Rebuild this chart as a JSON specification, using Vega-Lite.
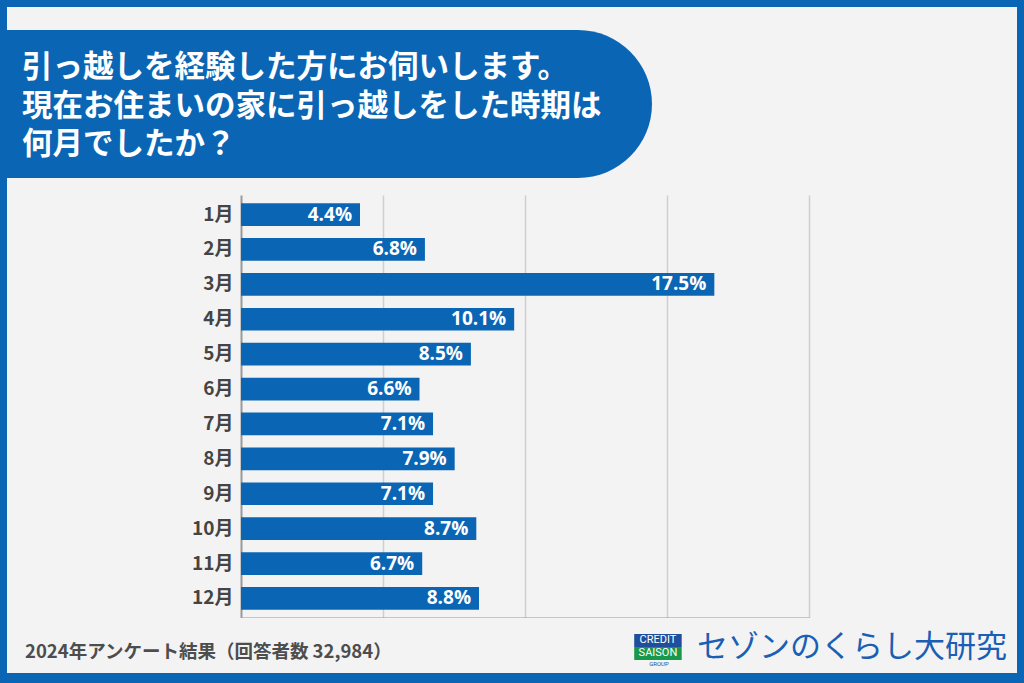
{
  "$schema": "https://vega.github.io/schema/vega-lite/v6.json",
  "background": "#0a66b4",
  "padding": {"left": 7, "top": 7, "right": 7, "bottom": 10},
  "spacing": 0,
  "bounds": "flush",
  "config": {
    "view": {"fill": "#f3f3f3", "stroke": null},
    "font": "Noto Sans CJK JP"
  },
  "vconcat": [
    {
      "width": 1010,
      "height": 188,
      "data": {"values": [{"q": "引っ越しを経験した方にお伺いします。\n現在お住まいの家に引っ越しをした時期は\n何月でしたか？"}]},
      "layer": [
        {
          "mark": {"type": "rect", "color": "#0a66b4", "cornerRadiusTopRight": 74, "cornerRadiusBottomRight": 74},
          "encoding": {
            "x": {"datum": 0, "type": "quantitative", "scale": {"domain": [0, 1], "nice": false}, "axis": null},
            "x2": {"datum": 0.6386},
            "y": {"datum": 0.1223, "type": "quantitative", "scale": {"domain": [0, 1], "reverse": true, "nice": false}, "axis": null},
            "y2": {"datum": 0.9096}
          }
        },
        {
          "mark": {"type": "text", "align": "left", "baseline": "middle", "lineBreak": "\n", "lineHeight": 38.5, "fontSize": 30.5, "fontWeight": "bold", "color": "#ffffff", "font": "Noto Sans CJK JP"},
          "encoding": {
            "x": {"datum": 0.0149, "type": "quantitative"},
            "y": {"datum": 0.3245, "type": "quantitative"},
            "text": {"field": "q"}
          }
        }
      ]
    },
    {
      "width": 1010,
      "height": 423,
      "data": {"values": [
        {"month": "1月", "pct": 4.4, "label": "4.4%"},
        {"month": "2月", "pct": 6.8, "label": "6.8%"},
        {"month": "3月", "pct": 17.5, "label": "17.5%"},
        {"month": "4月", "pct": 10.1, "label": "10.1%"},
        {"month": "5月", "pct": 8.5, "label": "8.5%"},
        {"month": "6月", "pct": 6.6, "label": "6.6%"},
        {"month": "7月", "pct": 7.1, "label": "7.1%"},
        {"month": "8月", "pct": 7.9, "label": "7.9%"},
        {"month": "9月", "pct": 7.1, "label": "7.1%"},
        {"month": "10月", "pct": 8.7, "label": "8.7%"},
        {"month": "11月", "pct": 6.7, "label": "6.7%"},
        {"month": "12月", "pct": 8.8, "label": "8.8%"}
      ]},
      "encoding": {
        "y": {
          "field": "month", "type": "nominal", "sort": null,
          "scale": {"paddingInner": 0.35, "paddingOuter": 0.235},
          "axis": {"title": null, "offset": -234, "domain": false, "ticks": false, "grid": false, "labelPadding": 8, "labelFontSize": 19, "labelFont": "Noto Sans CJK JP", "labelFontWeight": "bold", "labelColor": "#444444"}
        },
        "x": {
          "field": "pct", "type": "quantitative",
          "scale": {"domain": [0, 21], "range": [234, 802], "nice": false, "zero": true},
          "axis": {
            "title": null, "labels": false, "ticks": false,
            "values": [0, 5.25, 10.5, 15.75, 21],
            "grid": true,
            "gridColor": {"condition": {"test": "datum.value === 0", "value": "#9a9a9a"}, "value": "#cfcfcf"},
            "gridWidth": {"condition": {"test": "datum.value === 0", "value": 2}, "value": 1.5},
            "domain": true, "domainColor": "#9a9a9a", "domainWidth": 2
          }
        }
      },
      "layer": [
        {"mark": {"type": "bar", "color": "#0a66b4"}},
        {
          "mark": {"type": "text", "align": "right", "baseline": "middle", "dx": -8, "fontSize": 19, "fontWeight": "bold", "color": "#ffffff", "font": "Open Sans"},
          "encoding": {"text": {"field": "label"}}
        }
      ]
    },
    {
      "width": 1010,
      "height": 55,
      "data": {"values": [{"note": "2024年アンケート結果（回答者数 32,984）", "brand": "セゾンのくらし大研究", "c": "CREDIT", "s": "SAISON", "g": "GROUP"}]},
      "layer": [
        {
          "mark": {"type": "text", "align": "left", "baseline": "middle", "fontSize": 18.5, "fontWeight": "bold", "color": "#4d4d4d", "font": "Noto Sans CJK JP"},
          "encoding": {
            "x": {"datum": 0.0178, "type": "quantitative", "scale": {"domain": [0, 1], "nice": false}, "axis": null},
            "y": {"datum": 0.618, "type": "quantitative", "scale": {"domain": [0, 1], "reverse": true, "nice": false}, "axis": null},
            "text": {"field": "note"}
          }
        },
        {
          "mark": {"type": "rect", "color": "#1f4f9c"},
          "encoding": {
            "x": {"datum": 0.621, "type": "quantitative"},
            "x2": {"datum": 0.668},
            "y": {"datum": 0.291, "type": "quantitative"},
            "y2": {"datum": 0.527}
          }
        },
        {
          "mark": {"type": "rect", "color": "#18984a"},
          "encoding": {
            "x": {"datum": 0.621, "type": "quantitative"},
            "x2": {"datum": 0.668},
            "y": {"datum": 0.527, "type": "quantitative"},
            "y2": {"datum": 0.764}
          }
        },
        {
          "mark": {"type": "text", "align": "center", "baseline": "middle", "fontSize": 11, "color": "#ffffff", "font": "Roboto"},
          "encoding": {
            "x": {"datum": 0.6445, "type": "quantitative"},
            "y": {"datum": 0.409, "type": "quantitative"},
            "text": {"field": "c"}
          }
        },
        {
          "mark": {"type": "text", "align": "center", "baseline": "middle", "fontSize": 11, "color": "#ffffff", "font": "Roboto"},
          "encoding": {
            "x": {"datum": 0.6445, "type": "quantitative"},
            "y": {"datum": 0.645, "type": "quantitative"},
            "text": {"field": "s"}
          }
        },
        {
          "mark": {"type": "text", "align": "center", "baseline": "middle", "fontSize": 6, "color": "#1f4f9c", "font": "Roboto", "letterSpacing": 4},
          "encoding": {
            "x": {"datum": 0.6455, "type": "quantitative"},
            "y": {"datum": 0.845, "type": "quantitative"},
            "text": {"field": "g"}
          }
        },
        {
          "mark": {"type": "text", "align": "left", "baseline": "middle", "fontSize": 31, "fontWeight": "normal", "color": "#1b5fb5", "font": "Noto Sans CJK JP"},
          "encoding": {
            "x": {"datum": 0.6832, "type": "quantitative"},
            "y": {"datum": 0.545, "type": "quantitative"},
            "text": {"field": "brand"}
          }
        }
      ]
    }
  ]
}
